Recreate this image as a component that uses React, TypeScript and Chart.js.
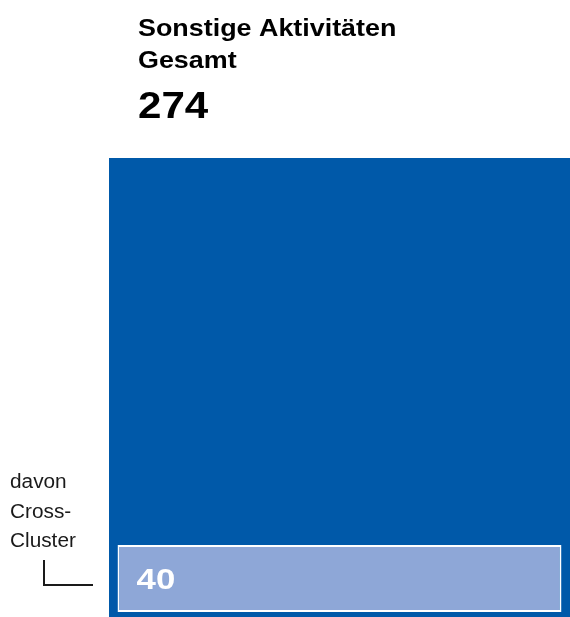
import React, { useEffect, useRef } from 'react';
import { Chart, registerables } from 'chart.js';

Chart.register(...registerables);

const categories = ['Sonstige Aktivitäten'];
const totalValues = [274];
const crossClusterValues = [40];
const titleLines = ['Sonstige Aktivitäten', 'Gesamt'];
const annotationLines = ['davon', 'Cross-', 'Cluster'];

const BASE_OFFSET = 3;
const DARK_BLUE = '#0059a9';
const LIGHT_BLUE = '#8ea7d7';
const FONT = '"Liberation Sans", Arial, Helvetica, sans-serif';

function drawText(ctx: CanvasRenderingContext2D, text: string, x: number, y: number, font: string, color: string, sx: number) {
  ctx.save();
  ctx.font = font;
  ctx.fillStyle = color;
  ctx.textBaseline = 'alphabetic';
  ctx.textAlign = 'left';
  ctx.translate(x, y);
  ctx.scale(sx, 1);
  ctx.fillText(text, 0, 0);
  ctx.restore();
}

const textPlugin = {
  id: 'textPlugin',
  afterDraw(chart: any) {
    const ctx = chart.ctx as CanvasRenderingContext2D;
    drawText(ctx, titleLines[0], 138, 36, `bold 24px ${FONT}`, '#000', 1.12);
    drawText(ctx, titleLines[1], 138, 68, `bold 24px ${FONT}`, '#000', 1.12);
    drawText(ctx, String(totalValues[0]), 138, 118, `bold 36px ${FONT}`, '#000', 1.17);
    annotationLines.forEach((t, i) => {
      drawText(ctx, t, 10, 488 + i * 29.5, `20px ${FONT}`, '#1a1a1a', 1.04);
    });
    ctx.save();
    ctx.strokeStyle = '#1a1a1a';
    ctx.lineWidth = 2;
    ctx.beginPath();
    ctx.moveTo(44, 560);
    ctx.lineTo(44, 585);
    ctx.lineTo(93, 585);
    ctx.stroke();
    ctx.restore();
    const el: any = chart.getDatasetMeta(1).data[0];
    if (el) {
      const left = el.x - el.width / 2;
      drawText(ctx, String(crossClusterValues[0]), left + 19, el.base - 23, `bold 29px ${FONT}`, '#fff', 1.2);
    }
  },
};

export default function App() {
  const canvasRef = useRef<HTMLCanvasElement | null>(null);

  useEffect(() => {
    document.body.style.margin = '0';
    const canvas = canvasRef.current;
    if (!canvas) return;
    const chart = new Chart(canvas, {
      type: 'bar',
      data: {
        labels: categories,
        datasets: [
          {
            label: 'Gesamt',
            data: totalValues,
            backgroundColor: DARK_BLUE,
            borderWidth: 0,
            barPercentage: 1,
            categoryPercentage: 1,
            order: 2,
            grouped: false,
          } as any,
          {
            label: 'davon Cross-Cluster',
            data: crossClusterValues.map((v) => [BASE_OFFSET, BASE_OFFSET + v]) as any,
            backgroundColor: LIGHT_BLUE,
            borderColor: '#ffffff',
            borderWidth: 2,
            borderSkipped: false,
            barPercentage: 0.963,
            categoryPercentage: 1,
            order: 1,
            grouped: false,
          } as any,
        ],
      },
      options: {
        animation: false,
        responsive: false,
        maintainAspectRatio: false,
        layout: { padding: { left: 109, top: 158, right: 0, bottom: 0 } },
        plugins: {
          legend: { display: false },
          title: { display: false },
          tooltip: { enabled: false },
        },
        scales: {
          x: { display: false },
          y: { display: false, min: 0, max: totalValues[0] },
        },
      },
      plugins: [textPlugin],
    });
    return () => chart.destroy();
  }, []);

  return (
    <div style={{ position: 'absolute', left: 0, top: 0, width: 570, height: 617 }}>
      <canvas ref={canvasRef} width={570} height={617} style={{ display: 'block', width: 570, height: 617 }} />
    </div>
  );
}
